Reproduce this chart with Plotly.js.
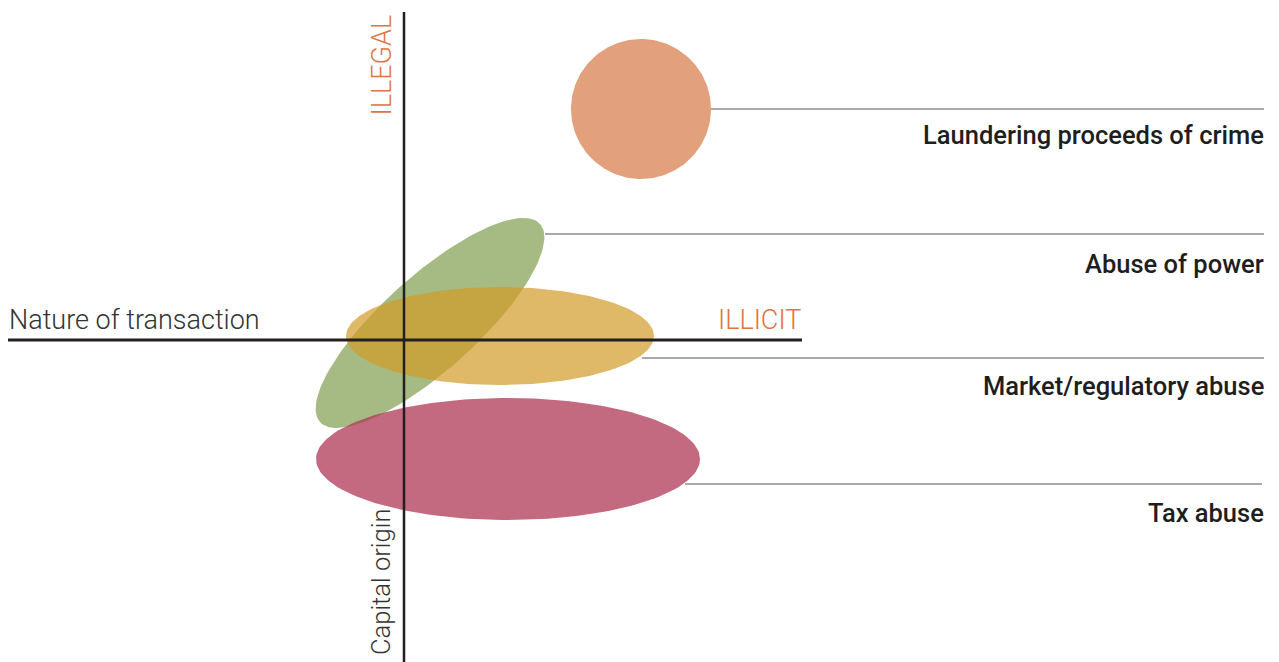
<!DOCTYPE html>
<html>
<head>
<meta charset="utf-8">
<script src="https://cdn.plot.ly/plotly-3.0.1.min.js"></script>
<style>
  html, body { margin: 0; padding: 0; background: #fff; }
  #myPlot { width: 1279px; height: 662px; }
</style>
</head>
<body>
<div id="myPlot"></div>
<script>
// categories of illicit flows, one ellipse each
const categories = ["Laundering proceeds of crime", "Abuse of power", "Market/regulatory abuse", "Tax abuse"];
// ellipse centre on nature-of-transaction (x) and capital-origin (y) scales
const centerX = [237, 26, 96, 104];
const centerY = [231, 17, 4, -119];
const radiusX = [70, 148, 154, 192];
const radiusY = [70, 47, 49, 61];
const tiltDeg = [0, 42, 0, 0];
const fills = ["rgb(227,160,125)", "rgb(166,187,131)", "rgba(209,155,38,0.7)", "rgba(175,56,86,0.75)"];
// draw order (green under yellow and red)
const drawOrder = [0, 1, 2, 3];

// leader lines to the labels
const leaderY = [231, 106, -18, -144];
const leaderFromX = [307, 141, 238, 281];
const leaderToX = [860, 860, 860, 858];
const labelY = [205, 76, -46, -173];

const xRange = [-404, 875];
const yRange = [-322, 340];

function ellipse(i) {
  const xs = [], ys = [];
  const th = tiltDeg[i] * Math.PI / 180;
  for (let k = 0; k <= 180; k++) {
    const t = (k / 180) * 2 * Math.PI;
    const ex = radiusX[i] * Math.cos(t);
    const ey = radiusY[i] * Math.sin(t);
    xs.push(centerX[i] + ex * Math.cos(th) - ey * Math.sin(th));
    ys.push(centerY[i] + ex * Math.sin(th) + ey * Math.cos(th));
  }
  return {
    x: xs, y: ys, type: "scatter", mode: "lines", fill: "toself",
    fillcolor: fills[i], line: { width: 0, color: fills[i] },
    name: categories[i], hoverinfo: "name",
  };
}

const data = [];
drawOrder.forEach((i) => data.push(ellipse(i)));
categories.forEach((c, i) => {
  data.push({
    x: [leaderFromX[i], leaderToX[i]], y: [leaderY[i], leaderY[i]],
    type: "scatter", mode: "lines", line: { color: "#555", width: 1.2 },
    hoverinfo: "skip",
  });
});

const labelFont = { family: "Roboto, 'DejaVu Sans', sans-serif", size: 25.5, color: "#1e1e1e", weight: 500 };
const lightFont = { family: "Roboto, 'DejaVu Sans', sans-serif", size: 27, color: "#333", weight: 300 };
const orangeFont = { family: "Roboto, 'DejaVu Sans', sans-serif", size: 27, color: "#e07444", weight: 300 };

const annotations = categories.map((c, i) => ({
  x: 862, y: labelY[i], text: c, showarrow: false,
  xanchor: "right", yanchor: "middle", font: labelFont,
}));
annotations.push(
  { x: -397, y: 20, text: "Nature of transaction", showarrow: false, xanchor: "left", yanchor: "middle", font: lightFont },
  { x: 399, y: 20, text: "ILLICIT", showarrow: false, xanchor: "right", yanchor: "middle", font: orangeFont },
  { x: -23, y: 327, text: "ILLEGAL", showarrow: false, textangle: -90, xanchor: "center", yanchor: "top", font: orangeFont },
  { x: -23, y: -167, text: "Capital origin", showarrow: false, textangle: -90, xanchor: "center", yanchor: "top",
    font: Object.assign({}, lightFont, { size: 25.5 }) }
);

const layout = {
  width: 1279, height: 662,
  margin: { l: 0, r: 0, t: 0, b: 0 },
  paper_bgcolor: "#fff", plot_bgcolor: "#fff",
  showlegend: false,
  xaxis: { range: xRange, visible: false, fixedrange: true },
  yaxis: { range: yRange, visible: false, fixedrange: true },
  shapes: [
    // axes of the diagram
    { type: "line", x0: -396, x1: 398, y0: 0, y1: 0, line: { color: "#231f20", width: 3 }, layer: "above" },
    { type: "line", x0: 0, x1: 0, y0: 328, y1: -322, line: { color: "#231f20", width: 2.5 }, layer: "above" },
  ],
  annotations: annotations,
};

Plotly.newPlot("myPlot", data, layout, { displayModeBar: false, staticPlot: true });
</script>
</body>
</html>
